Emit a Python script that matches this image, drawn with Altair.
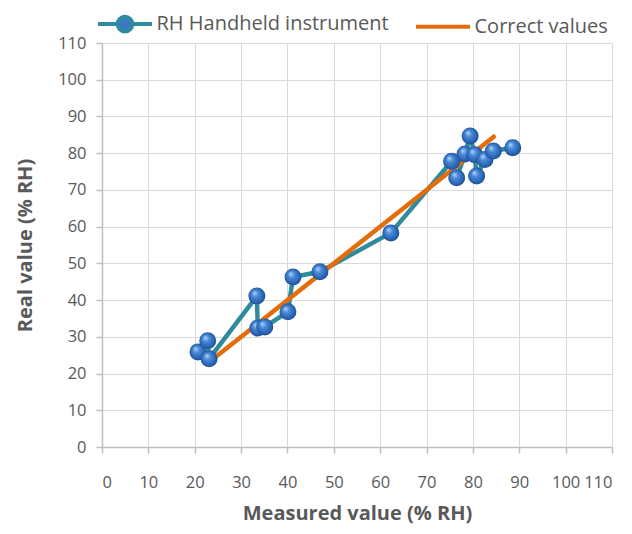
import altair as alt
import pandas as pd

series_names = ["RH Handheld instrument", "Correct values"]
measured = [20.7, 22.8, 23.1, 33.4, 33.6, 35.1, 40.1, 41.2, 47.0, 62.3,
            75.4, 76.5, 78.3, 79.4, 80.4, 80.8, 82.6, 84.4, 88.6]
real = [25.9, 28.9, 24.0, 41.1, 32.4, 32.7, 36.8, 46.3, 47.7, 58.3,
        77.8, 73.3, 79.8, 84.7, 79.6, 73.8, 78.3, 80.6, 81.5]
correct_x = [24, 84.5]
correct_y = [24, 84.5]
ticks = list(range(0, 111, 10))

rows = []
for i, (a, b) in enumerate(zip(measured, real)):
    rows.append({"series": series_names[0], "x": a, "y": b, "order": i})
for i, (a, b) in enumerate(zip(correct_x, correct_y)):
    rows.append({"series": series_names[1], "x": a, "y": b, "order": i})
df = pd.DataFrame(rows)
rh = df[df.series == series_names[0]]

TEAL = "#2e8b9d"
ORANGE = "#e46c0a"
FONT = "Open Sans"
GREY = "#595959"

xs = alt.Scale(domain=[0, 110], nice=False, zero=False)
ys = alt.Scale(domain=[0, 110], nice=False, zero=False)

xax = alt.Axis(values=ticks, title="Measured value (% RH)", grid=True, tickCount=12)
yax = alt.Axis(values=ticks, title="Real value (% RH)", grid=True, tickCount=12)

X = alt.X("x:Q", scale=xs, axis=xax)
Y = alt.Y("y:Q", scale=ys, axis=yax)

stroke_scale = alt.Scale(domain=series_names, range=[TEAL, ORANGE])
# legend symbols: 27px box, drawn 54px wide (path spans -2..2)
shape_scale = alt.Scale(
    domain=series_names,
    range=[
        "M-2,0H-0.56M0.56,0H2M0.54,0A0.54,0.54 0 1 1 -0.54,0A0.54,0.54 0 1 1 0.54,0Z",
        "M-2,0H2",
    ],
)

leg = alt.Legend(
    title=None,
    orient="none",
    direction="horizontal",
    legendX=7.5,
    legendY=-34.5,
    symbolSize=729,
    symbolOpacity=1,
    symbolStrokeWidth=4,
    symbolFillColor="#3b78c6",
    labelFont=FONT,
    labelFontSize=20,
    labelColor=GREY,
    labelOffset=16,
    columnPadding=18,
    labelLimit=400,
)

lines = alt.Chart(df).mark_line(strokeWidth=4.5, strokeCap="round", strokeJoin="round").encode(
    x=X,
    y=Y,
    stroke=alt.Stroke("series:N", scale=stroke_scale, legend=leg),
    order="order:Q",
    detail="series:N",
)

sphere = alt.RadialGradient(
    gradient="radial",
    x1=0.35, y1=0.3, r1=0.0,
    x2=0.5, y2=0.5, r2=0.55,
    stops=[
        alt.GradientStop(offset=0, color="#b9d8fb"),
        alt.GradientStop(offset=0.35, color="#4a8ad8"),
        alt.GradientStop(offset=0.8, color="#2660ad"),
        alt.GradientStop(offset=1, color="#1c467f"),
    ],
)

points = alt.Chart(rh).mark_point(
    filled=True, size=289, shape="circle", fill=sphere, opacity=1, strokeWidth=0
).encode(x=X, y=Y)

legend_layer = alt.Chart(rh).mark_point(
    size=729, opacity=0, fill="#3b78c6", strokeWidth=4
).encode(
    x=X,
    y=Y,
    stroke=alt.Stroke("series:N", scale=stroke_scale, legend=leg),
    shape=alt.Shape("series:N", scale=shape_scale, legend=leg),
)

chart = alt.layer(lines, points, legend_layer).properties(
    width=510, height=404,
    autosize=alt.AutoSizeParams(type="none"),
    padding={"left": 94, "top": 35, "right": 12, "bottom": 81},
).configure_view(stroke=None).configure_axis(
    gridColor="#d9d9d9",
    gridWidth=1,
    domainColor="#bfbfbf",
    domainWidth=1.5,
    tickColor="#bfbfbf",
    tickSize=6,
    tickWidth=1.5,
    labelFont=FONT,
    labelFontSize=16.5,
    labelColor=GREY,
    titleFont=FONT,
    titleFontSize=20,
    titleFontWeight="bold",
    titleColor=GREY,
).configure_axisX(
    labelPadding=21, titlePadding=13
).configure_axisY(
    labelPadding=10, titlePadding=22
)

chart.save("out.html", embed_options={"renderer": "svg", "actions": False})
